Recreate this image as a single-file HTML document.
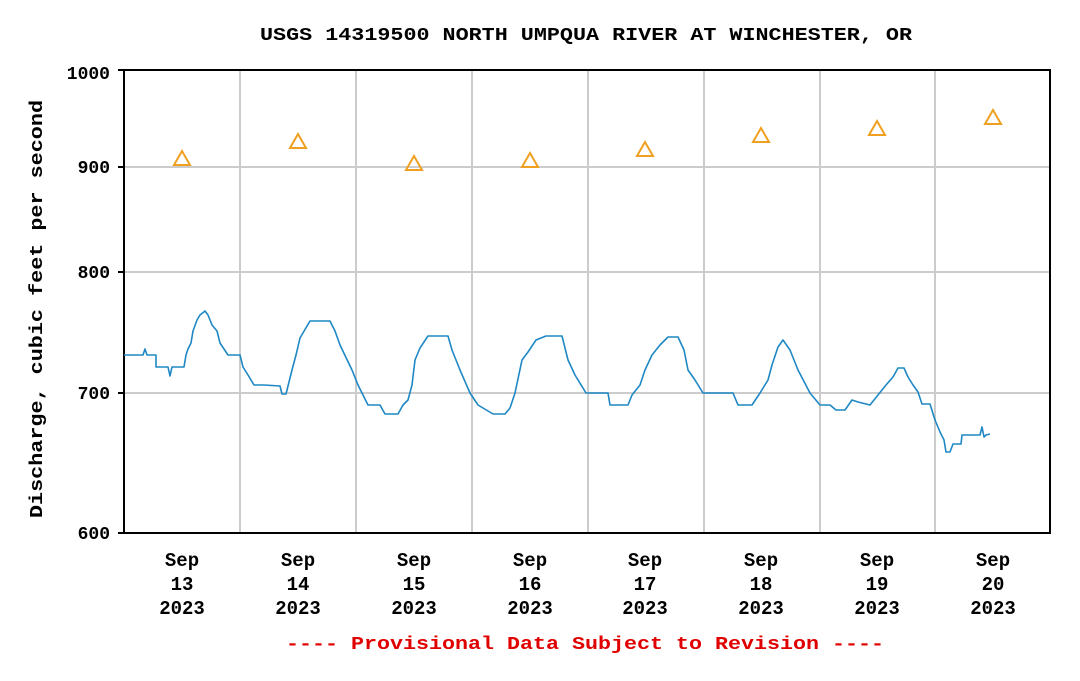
<!DOCTYPE html>
<html><head><style>
body{margin:0;background:#fff;}
svg text{font-family:"Liberation Mono",monospace;font-weight:bold;}
</style></head><body>
<svg width="1080" height="676" xmlns="http://www.w3.org/2000/svg">
<rect width="1080" height="676" fill="#fff"/>
<text x="260" y="40" font-size="18" textLength="652" lengthAdjust="spacingAndGlyphs" fill="#000">USGS 14319500 NORTH UMPQUA RIVER AT WINCHESTER, OR</text>
<g stroke="#ccc" stroke-width="2">
<line x1="240" y1="70" x2="240" y2="533"/><line x1="356" y1="70" x2="356" y2="533"/>
<line x1="472" y1="70" x2="472" y2="533"/><line x1="588" y1="70" x2="588" y2="533"/>
<line x1="704" y1="70" x2="704" y2="533"/><line x1="820" y1="70" x2="820" y2="533"/>
<line x1="935" y1="70" x2="935" y2="533"/>
<line x1="124" y1="167" x2="1050" y2="167"/><line x1="124" y1="272" x2="1050" y2="272"/>
<line x1="124" y1="393" x2="1050" y2="393"/>
</g>
<rect x="124" y="70" width="926" height="463" fill="none" stroke="#000" stroke-width="2"/>
<g font-size="18" fill="#000" text-anchor="end">
<text x="110" y="79">1000</text><text x="110" y="173">900</text><text x="110" y="278">800</text>
<text x="110" y="399">700</text><text x="110" y="539">600</text>
</g>
<g stroke="#000" stroke-width="2"><line x1="118" y1="70" x2="124" y2="70"/><line x1="118" y1="167" x2="124" y2="167"/><line x1="118" y1="272" x2="124" y2="272"/><line x1="118" y1="393" x2="124" y2="393"/><line x1="118" y1="533" x2="124" y2="533"/></g>
<text transform="translate(42,518) rotate(-90)" font-size="18" textLength="418" lengthAdjust="spacingAndGlyphs" fill="#000">Discharge, cubic feet per second</text>
<g font-size="19" fill="#000" text-anchor="middle">
<text x="182" y="566">Sep</text><text x="182" y="590">13</text><text x="182" y="614">2023</text>
<text x="298" y="566">Sep</text><text x="298" y="590">14</text><text x="298" y="614">2023</text>
<text x="414" y="566">Sep</text><text x="414" y="590">15</text><text x="414" y="614">2023</text>
<text x="530" y="566">Sep</text><text x="530" y="590">16</text><text x="530" y="614">2023</text>
<text x="645" y="566">Sep</text><text x="645" y="590">17</text><text x="645" y="614">2023</text>
<text x="761" y="566">Sep</text><text x="761" y="590">18</text><text x="761" y="614">2023</text>
<text x="877" y="566">Sep</text><text x="877" y="590">19</text><text x="877" y="614">2023</text>
<text x="993" y="566">Sep</text><text x="993" y="590">20</text><text x="993" y="614">2023</text>
</g>
<text x="286" y="649" font-size="18" textLength="598" lengthAdjust="spacingAndGlyphs" fill="#e00000">---- Provisional Data Subject to Revision ----</text>
<polyline fill="none" stroke="#1f88c4" stroke-width="1.6" stroke-linejoin="round" points="124,355 143,355 145,349 147,355 156,355 156,367 168,367 170,376 172,367 184,367 186,355 188,349 191,343 193,331 197,320 200,315 205,311 208,315 212,325 217,331 220,343 228,355 240,355 243,367 248,375 254,385 264,385 280,386 282,394 286,394 288,386 292,370 296,355 300,338 310,321 330,321 335,331 340,345 352,370 358,385 368,405 380,405 385,414 398,414 403,405 408,400 412,385 415,360 420,348 428,336 448,336 452,350 460,370 470,393 478,405 493,414 505,414 510,408 515,393 522,360 528,352 536,340 546,336 562,336 568,360 575,375 586,393 608,393 610,405 628,405 632,395 640,385 645,370 652,355 660,345 668,337 678,337 684,350 688,370 695,380 703,393 733,393 738,405 752,405 760,393 768,380 772,365 778,347 783,340 790,350 798,370 810,393 820,405 830,405 836,410 845,410 852,400 858,402 870,405 878,395 886,385 893,377 898,368 904,368 908,377 913,385 918,392 922,404 930,404 935,420 940,432 944,440 946,452 950,452 953,444 961,444 962,435 980,435 982,427 984,437 986,435 990,434"/>
<g fill="none" stroke="#f0a020" stroke-width="2">
<polygon points="182,151 174,165 190,165"/><polygon points="298,134 290,148 306,148"/>
<polygon points="414,156 406,170 422,170"/><polygon points="530,153 522,167 538,167"/>
<polygon points="645,142 637,156 653,156"/><polygon points="761,128 753,142 769,142"/>
<polygon points="877,121 869,135 885,135"/><polygon points="993,110 985,124 1001,124"/>
</g>
</svg>
</body></html>
